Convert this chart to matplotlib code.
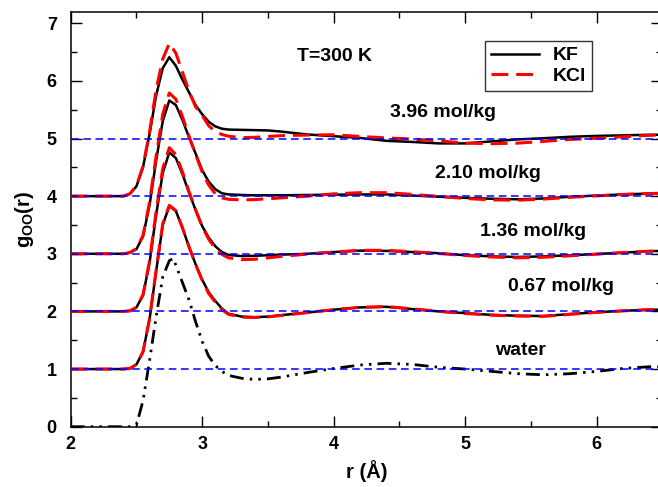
import matplotlib
matplotlib.use("Agg")
import matplotlib.pyplot as plt
from matplotlib.ticker import MultipleLocator

plt.rcParams['font.family'] = ['Liberation Sans', 'DejaVu Sans']
plt.rcParams['mathtext.fontset'] = 'custom'
plt.rcParams['mathtext.rm'] = 'Liberation Sans'
plt.rcParams['mathtext.bf'] = 'Liberation Sans:bold'

# r grid (Angstrom)
r = [2.0, 2.4, 2.45, 2.5, 2.55, 2.6, 2.65, 2.7, 2.75, 2.8, 2.85, 2.9, 2.95, 3.0, 3.05,
     3.1, 3.15, 3.2, 3.3, 3.4, 3.5, 3.6, 3.8, 4.0, 4.2, 4.4, 4.6, 4.8, 5.0, 5.2, 5.4,
     5.6, 5.8, 6.0, 6.2, 6.4, 6.5]

r_water = [2.0, 2.4, 2.45, 2.5, 2.55, 2.6, 2.65, 2.7, 2.75, 2.78, 2.85, 2.9, 2.95, 3.0, 3.05,
           3.1, 3.15, 3.2, 3.3, 3.4, 3.5, 3.6, 3.8, 4.0, 4.2, 4.4, 4.6, 4.8, 5.0, 5.2, 5.4,
           5.6, 5.8, 6.0, 6.2, 6.4, 6.5]
g_water = [0.0, 0.0, 0.0, 0.03, 0.45, 1.15, 1.91, 2.60, 2.88, 2.92, 2.50, 2.20, 1.82, 1.48, 1.22,
           1.06, 0.96, 0.89, 0.84, 0.82, 0.83, 0.86, 0.94, 1.01, 1.07, 1.10, 1.08, 1.03, 1.00, 0.96, 0.92,
           0.90, 0.92, 0.96, 1.01, 1.04, 1.04]

g_kf_067 = [0.0, 0.0, 0.01, 0.08, 0.30, 0.87, 1.70, 2.50, 2.83, 2.74, 2.45, 2.12, 1.82, 1.55, 1.33,
            1.18, 1.05, 0.96, 0.91, 0.90, 0.91, 0.935, 0.98, 1.03, 1.07, 1.08, 1.04, 1.00, 0.97, 0.94, 0.925,
            0.92, 0.955, 0.985, 1.01, 1.03, 1.03]
g_kcl_067 = [0.0, 0.0, 0.01, 0.08, 0.30, 0.88, 1.72, 2.52, 2.84, 2.75, 2.45, 2.12, 1.81, 1.54, 1.31,
             1.16, 1.03, 0.95, 0.90, 0.895, 0.905, 0.93, 0.98, 1.03, 1.07, 1.085, 1.045, 1.00, 0.965, 0.935, 0.92,
             0.915, 0.95, 0.985, 1.01, 1.03, 1.035]

g_kf_136 = [0.0, 0.0, 0.01, 0.07, 0.28, 0.85, 1.68, 2.40, 2.76, 2.66, 2.38, 2.06, 1.76, 1.48, 1.28,
            1.13, 1.03, 0.98, 0.96, 0.965, 0.975, 0.985, 1.00, 1.03, 1.055, 1.05, 1.03, 1.01, 0.975, 0.955, 0.945,
            0.955, 0.975, 0.995, 1.02, 1.045, 1.05]
g_kcl_136 = [0.0, 0.0, 0.01, 0.07, 0.29, 0.88, 1.74, 2.48, 2.84, 2.72, 2.42, 2.08, 1.76, 1.47, 1.25,
             1.09, 0.99, 0.93, 0.90, 0.905, 0.93, 0.955, 0.995, 1.03, 1.06, 1.06, 1.035, 1.005, 0.97, 0.945, 0.93,
             0.94, 0.965, 0.995, 1.02, 1.045, 1.05]

g_kf_210 = [0.0, 0.0, 0.02, 0.08, 0.30, 0.85, 1.62, 2.30, 2.66, 2.58, 2.32, 2.02, 1.74, 1.45, 1.25,
            1.12, 1.05, 1.03, 1.02, 1.015, 1.015, 1.015, 1.02, 1.025, 1.03, 1.03, 1.01, 0.99, 0.97, 0.955, 0.945,
            0.96, 0.99, 1.01, 1.03, 1.045, 1.05]
g_kcl_210 = [0.0, 0.0, 0.02, 0.09, 0.32, 0.90, 1.70, 2.42, 2.79, 2.68, 2.38, 2.04, 1.72, 1.42, 1.19,
             1.04, 0.97, 0.945, 0.935, 0.94, 0.955, 0.97, 1.00, 1.04, 1.06, 1.06, 1.03, 0.995, 0.96, 0.935, 0.93,
             0.95, 0.98, 1.005, 1.03, 1.045, 1.05]

g_kf_396 = [0.0, 0.0, 0.04, 0.17, 0.50, 1.08, 1.75, 2.22, 2.41, 2.26, 2.02, 1.80, 1.58, 1.42, 1.29,
            1.21, 1.17, 1.155, 1.15, 1.145, 1.14, 1.12, 1.07, 1.04, 1.01, 0.96, 0.94, 0.915, 0.915, 0.95, 0.985,
            1.005, 1.03, 1.045, 1.055, 1.065, 1.065]
g_kcl_396 = [0.0, 0.0, 0.04, 0.18, 0.52, 1.12, 1.85, 2.38, 2.65, 2.48, 2.15, 1.82, 1.55, 1.40, 1.22,
             1.12, 1.07, 1.04, 1.015, 1.02, 1.035, 1.05, 1.06, 1.065, 1.035, 1.01, 0.99, 0.96, 0.92, 0.91, 0.92,
             0.95, 0.985, 1.005, 1.03, 1.055, 1.06]

concentrations = ['0.67 mol/kg', '1.36 mol/kg', '2.10 mol/kg', '3.96 mol/kg']
offsets = [1, 2, 3, 4]
kf_series = [g_kf_067, g_kf_136, g_kf_210, g_kf_396]
kcl_series = [g_kcl_067, g_kcl_136, g_kcl_210, g_kcl_396]
label_pos = [(5.73, 2.43), (5.52, 3.38), (5.17, 4.39), (4.83, 5.45)]

fig = plt.figure(figsize=(6.58, 4.87), dpi=100)
ax = fig.add_axes([70.7 / 658, (487 - 426.7) / 487, (662.4 - 70.7) / 658, (426.7 - 11.7) / 487])

for off, gkf, gkcl in zip(offsets, kf_series, kcl_series):
    ax.plot(r, [v + off for v in gkf], color='black', lw=1.8, zorder=3,
            label='KF' if off == 1 else None)
    ax.plot(r, [v + off for v in gkcl], color='red', lw=2.2, zorder=4,
            dashes=(5.5, 2.6), label='KCl' if off == 1 else None)

ax.plot(r_water, g_water, color='black', lw=2.0, zorder=3,
        dashes=(5.0, 2.2, 0.9, 2.2, 0.9, 2.2))

for yb in [1, 2, 3, 4, 5]:
    ax.axhline(yb, color='blue', lw=1.1, dashes=(5, 3), zorder=5)

FS = 14
for txt, (x, y) in zip(concentrations, label_pos):
    ax.text(x, y, txt, ha='center', va='center', fontsize=FS, fontweight='bold')
ax.text(5.42, 1.33, 'water', ha='center', va='center', fontsize=FS, fontweight='bold')
ax.text(3.72, 6.42, 'T=300 K', ha='left', va='center', fontsize=FS, fontweight='bold')

ax.set_xlim(2, 6.5)
ax.set_ylim(0, 7.2)
ax.xaxis.set_major_locator(MultipleLocator(1))
ax.xaxis.set_minor_locator(MultipleLocator(0.5))
ax.yaxis.set_major_locator(MultipleLocator(1))
ax.yaxis.set_minor_locator(MultipleLocator(0.5))
ax.tick_params(which='both', direction='in', top=True, right=True, width=1.0)
ax.tick_params(which='major', length=8, labelsize=13)
ax.tick_params(axis='y', which='major', pad=10)
ax.tick_params(axis='x', which='major', pad=7)
ax.tick_params(which='minor', length=4)
for lab in ax.get_xticklabels() + ax.get_yticklabels():
    lab.set_fontweight('bold')
for sp in ax.spines.values():
    sp.set_linewidth(1.1)

ax.set_xlabel('r (Å)', fontsize=14.5, fontweight='bold', labelpad=5)
ax.set_ylabel(r'$\mathbf{g_{OO}(r)}$', fontsize=14.5, labelpad=8)

leg = ax.legend(loc='upper left', bbox_to_anchor=((485 - 70.7) / 591.7, (426.7 - 41) / 415),
                frameon=True, fancybox=False, edgecolor='black', fontsize=14,
                handlelength=2.5, borderpad=0.3, labelspacing=0.15, handletextpad=0.7,
                borderaxespad=0)
leg.get_frame().set_linewidth(1.0)
for t in leg.get_texts():
    t.set_fontweight('bold')

fig.savefig('out.png', dpi=100)
